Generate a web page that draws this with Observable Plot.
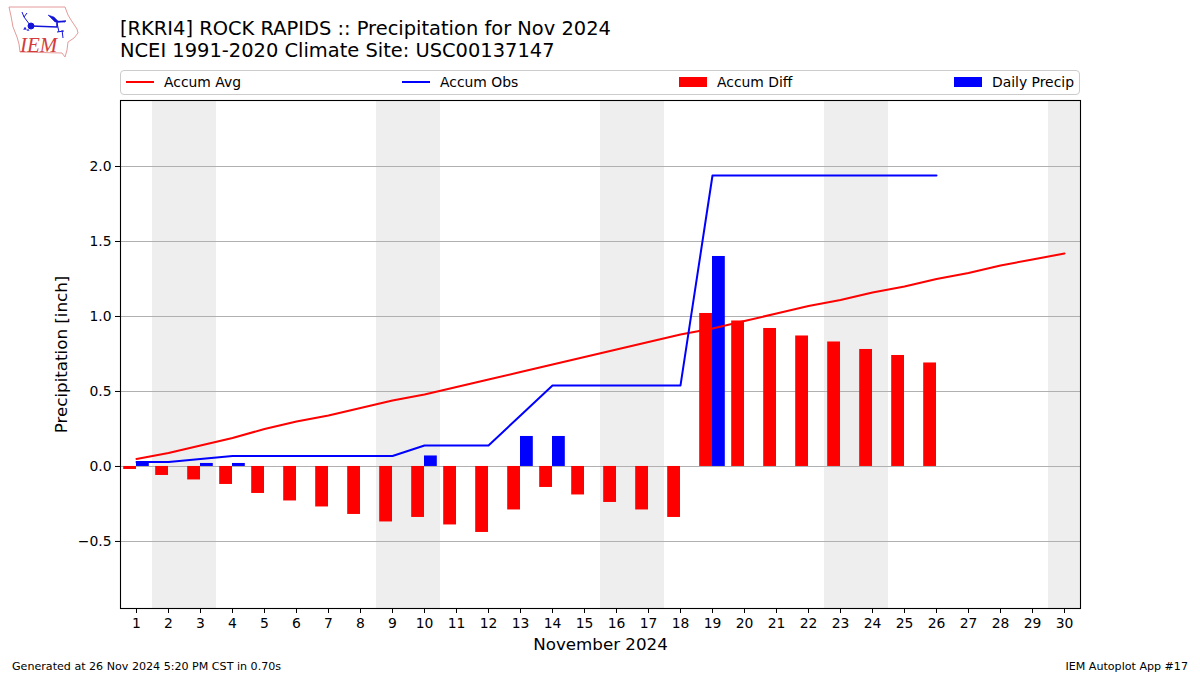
<!DOCTYPE html>
<html>
<head>
<meta charset="utf-8">
<script src="https://cdn.jsdelivr.net/npm/d3@7"></script>
<script src="https://cdn.jsdelivr.net/npm/@observablehq/plot@0.6"></script>
<style>
html,body{margin:0;padding:0;background:#fff;}
body{width:1200px;height:675px;position:relative;overflow:hidden;font-family:"DejaVu Sans",sans-serif;color:#000;}
#title{position:absolute;left:120px;top:18px;font-size:19.45px;line-height:22px;white-space:nowrap;}
#logo{position:absolute;left:0;top:0;}
#legend{position:absolute;left:120px;top:70px;width:960px;height:25px;box-sizing:border-box;border:1px solid #ccc;border-radius:4px;font-size:13.9px;}
.item{position:absolute;top:0;height:21px;display:flex;align-items:center;gap:10px;white-space:nowrap;}
.sw{width:28px;display:block;}
.sw.line{height:2px;}
.sw.bar{height:10px;}
#chart{position:absolute;left:0;top:96px;}
#chart svg{display:block;}
#foot-l{position:absolute;left:12px;top:660px;font-size:11.1px;}
#foot-r{position:absolute;right:12px;top:660px;font-size:11.1px;}
</style>
</head>
<body>
<svg id="logo" width="90" height="64" viewBox="0 0 90 64">
  <path d="M9 7 L65 7 L68 15 L71 20 L77 29 L78 33 L74 38 L68 42 L67 50 L65 57 L62 53 L20 52 L19 44 L17 37 L13 27 L11 16 Z" fill="#fff" stroke="#e59a9a" stroke-width="1"/>
  <g stroke="#1414d8" fill="#1414d8">
    <path d="M31 26 L57 27 L57 22 L66 21" stroke-width="1.5" fill="none"/>
    <circle cx="31" cy="26" r="3"/>
    <path d="M48 15 L54 17 L58 21 L65 22 L55 22 Z" stroke-width="0.5"/>
    <path d="M30 25 L24 17 L22 12 M24 17 L27 13" stroke-width="1" fill="none"/>
    <path d="M57 23 L59 32 M62 30 L63 38 M57 32 L64 31" stroke-width="1" fill="none"/>
    <path d="M25 27 l1.5 2.5 h-3 Z M28 29 l1.2 1.5 h-2.4 Z" stroke-width="0.3"/>
  </g>
  <text x="20" y="52" font-family="Liberation Serif" font-style="italic" font-size="21" fill="#d43c3c">IEM</text>
</svg>
<div id="title">[RKRI4] ROCK RAPIDS :: Precipitation for Nov 2024<br>NCEI 1991-2020 Climate Site: USC00137147</div>
<div id="legend">
  <div class="item" style="left:5px"><span class="sw line" style="background:#f00"></span>Accum Avg</div>
  <div class="item" style="left:281px"><span class="sw line" style="background:#00f"></span>Accum Obs</div>
  <div class="item" style="left:558px"><span class="sw bar" style="background:#f00"></span>Accum Diff</div>
  <div class="item" style="left:833px"><span class="sw bar" style="background:#00f"></span>Daily Precip</div>
</div>
<div id="chart"></div>
<div id="foot-l">Generated at 26 Nov 2024 5:20 PM CST in 0.70s</div>
<div id="foot-r">IEM Autoplot App #17</div>
<script>
const days = d3.range(1, 31);
const accumAvg = [0.05,0.09,0.14,0.19,0.25,0.30,0.34,0.39,0.44,0.48,0.53,0.58,0.63,0.68,0.73,0.78,0.83,0.88,0.92,0.97,1.02,1.07,1.11,1.16,1.20,1.25,1.29,1.34,1.38,1.42];
const accumObs = [0.03,0.03,0.05,0.07,0.07,0.07,0.07,0.07,0.07,0.14,0.14,0.14,0.34,0.54,0.54,0.54,0.54,0.54,1.94,1.94,1.94,1.94,1.94,1.94,1.94,1.94];
const accumDiff = [-0.02,-0.06,-0.09,-0.12,-0.18,-0.23,-0.27,-0.32,-0.37,-0.34,-0.39,-0.44,-0.29,-0.14,-0.19,-0.24,-0.29,-0.34,1.02,0.97,0.92,0.87,0.83,0.78,0.74,0.69];
const dailyPrecip = [0.03,0,0.02,0.02,0,0,0,0,0,0.07,0,0,0.20,0.20,0,0,0,0,1.40,0,0,0,0,0,0,0];
const weekends = [[1.5,3.5],[8.5,10.5],[15.5,17.5],[22.5,24.5],[29.5,30.5]];
const yTicks = [-0.5,0,0.5,1,1.5,2];
const barWidth = 0.4;

const avgRows = accumAvg.map((v,i)=>({day:days[i],v}));
const obsRows = accumObs.map((v,i)=>({day:days[i],v}));
const diffRows = accumDiff.map((v,i)=>({day:days[i],v}));
const dailyRows = dailyPrecip.map((v,i)=>({day:days[i],v})).filter(d=>d.v>0);

const plot = Plot.plot({
  width: 1200,
  height: 558,
  marginLeft: 120,
  marginRight: 120,
  marginTop: 4,
  marginBottom: 46,
  style: {background:"transparent", fontFamily:"'DejaVu Sans',sans-serif", fontSize:"13.9px", color:"#000", overflow:"visible"},
  x: {type:"linear", domain:[0.5,30.5]},
  y: {type:"linear", domain:[-0.947,2.44]},
  marks: [
    Plot.rect(weekends,{x1:d=>d[0],x2:d=>d[1],y1:-0.947,y2:2.44,fill:"#eeeeee"}),
    Plot.ruleY(yTicks,{stroke:"#b0b0b0",strokeWidth:1.1}),
    Plot.rect(diffRows,{x1:d=>d.day-barWidth,x2:"day",y1:0,y2:"v",fill:"#f00",inset:0}),
    Plot.rect(dailyRows,{x1:"day",x2:d=>d.day+barWidth,y1:0,y2:"v",fill:"#00f",inset:0}),
    Plot.line(avgRows,{x:"day",y:"v",stroke:"#f00",strokeWidth:2,curve:"linear"}),
    Plot.line(obsRows,{x:"day",y:"v",stroke:"#00f",strokeWidth:2,curve:"linear"}),
    Plot.frame({stroke:"#000",strokeWidth:1.1}),
    Plot.axisX({ticks:days,tickFormat:d=>String(d),tickSize:5,tickPadding:5,stroke:"#000",label:"November 2024",labelAnchor:"center",labelArrow:"none",labelOffset:41,fontSize:13.9}),
    Plot.axisY({ticks:yTicks,tickFormat:d=>d.toFixed(1).replace("-","\u2212"),tickSize:5,tickPadding:4,stroke:"#000",label:"Precipitation [inch]",labelAnchor:"center",labelArrow:"none",labelOffset:65,fontSize:13.9})
  ]
});
// axis titles at the reference's larger size
plot.querySelectorAll('g[aria-label$="axis label"]').forEach(g=>{g.setAttribute("font-size","16.7");});
document.getElementById("chart").appendChild(plot);
</script>
</body>
</html>
